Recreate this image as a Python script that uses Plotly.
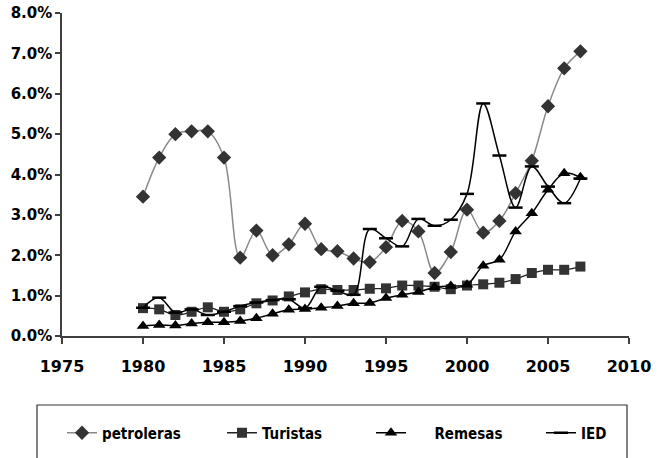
import plotly.graph_objects as go

years = list(range(1980, 2008))

petroleras = [3.45, 4.42, 5.00, 5.07, 5.07, 4.42, 1.94, 2.61, 2.00, 2.27,
              2.78, 2.15, 2.10, 1.92, 1.83, 2.20, 2.85, 2.59, 1.56, 2.08,
              3.13, 2.56, 2.85, 3.54, 4.34, 5.69, 6.63, 7.05]
turistas = [0.69, 0.66, 0.52, 0.60, 0.71, 0.60, 0.66, 0.81, 0.88, 0.98,
            1.08, 1.16, 1.14, 1.14, 1.17, 1.18, 1.25, 1.25, 1.22, 1.16,
            1.25, 1.28, 1.32, 1.41, 1.56, 1.64, 1.64, 1.72]
remesas = [0.25, 0.27, 0.26, 0.31, 0.34, 0.34, 0.37, 0.44, 0.55, 0.65,
           0.67, 0.70, 0.74, 0.81, 0.82, 0.94, 1.02, 1.09, 1.21, 1.24,
           1.27, 1.74, 1.89, 2.59, 3.04, 3.62, 4.03, 3.93]
ied = [0.70, 0.95, 0.58, 0.66, 0.52, 0.60, 0.74, 0.83, 0.89, 0.91,
       0.69, 1.22, 1.12, 1.02, 2.65, 2.42, 2.22, 2.90, 2.73, 2.88,
       3.52, 5.76, 4.47, 3.18, 4.20, 3.70, 3.29, 3.90]

x_ticks = [1975, 1980, 1985, 1990, 1995, 2000, 2005, 2010]
y_ticks = [0.0, 0.01, 0.02, 0.03, 0.04, 0.05, 0.06, 0.07, 0.08]


def pct(values):
    return [v / 100 for v in values]


W, H = 662, 458
ML, MR, MT, MB = 62, 33, 13, 122
plot_w, plot_h = W - ML - MR, H - MT - MB

fig = go.Figure()

fig.add_trace(go.Scatter(
    x=years, y=pct(petroleras), name="petroleras", mode="lines+markers",
    line=dict(color="#8a8a8a", width=1.5, shape="spline", smoothing=1),
    marker=dict(symbol="diamond", size=11, color="#333333"),
    legend="legend",
))
fig.add_trace(go.Scatter(
    x=years, y=pct(turistas), name="Turistas", mode="lines+markers",
    line=dict(color="#222222", width=1.3, shape="spline", smoothing=1),
    marker=dict(symbol="square", size=10, color="#333333"),
    legend="legend2",
))
fig.add_trace(go.Scatter(
    x=years, y=pct(remesas), name="\u00a0\u00a0\u00a0\u00a0\u00a0Remesas",
    mode="lines+markers",
    line=dict(color="#000000", width=1.5, shape="spline", smoothing=1),
    marker=dict(symbol="triangle-up", size=11, color="#000000"),
    legend="legend3",
))
fig.add_trace(go.Scatter(
    x=years, y=pct(ied), name="IED", mode="lines+markers",
    line=dict(color="#000000", width=1.5, shape="spline", smoothing=1),
    marker=dict(symbol="line-ew", size=10,
                line=dict(color="#000000", width=2.5)),
    legend="legend4",
))

legend_font = dict(family="DejaVu Sans Condensed, DejaVu Sans", size=15,
                   color="#000000", weight="bold")


def legend_at(left_px):
    return dict(
        orientation="h", xref="container", yref="container",
        x=left_px / W, y=1 - 433 / H, xanchor="left", yanchor="middle",
        font=legend_font, bgcolor="rgba(0,0,0,0)", borderwidth=0,
        itemwidth=30,
    )


fig.update_layout(
    width=W, height=H,
    margin=dict(l=ML, r=MR, t=MT, b=MB, autoexpand=False),
    paper_bgcolor="white", plot_bgcolor="white",
    showlegend=True,
    legend=legend_at(62),
    legend2=legend_at(222),
    legend3=legend_at(371),
    legend4=legend_at(541),
    shapes=[dict(
        type="rect", xref="paper", yref="paper",
        x0=(37 - ML) / plot_w, x1=(627 - ML) / plot_w,
        y0=(MT + plot_h - 480) / plot_h, y1=(MT + plot_h - 405) / plot_h,
        line=dict(color="#333333", width=1.2), fillcolor="rgba(0,0,0,0)",
        layer="below",
    )],
    xaxis=dict(
        range=[1975, 2010], tickvals=x_ticks, showgrid=False, zeroline=False,
        showline=True, linecolor="#404040", linewidth=1.5,
        ticks="outside", ticklen=6, tickcolor="#404040", tickwidth=1.5,
        tickfont=dict(family="DejaVu Sans", size=16, color="#000000",
                      weight="bold"),
        ticklabelstandoff=9,
    ),
    yaxis=dict(
        range=[0, 0.08], tickvals=y_ticks, tickformat=".1%", showgrid=False,
        zeroline=False, showline=True, linecolor="#404040", linewidth=1.5,
        ticks="outside", ticklen=5, tickcolor="#404040", tickwidth=1.5,
        tickfont=dict(family="DejaVu Sans", size=15, color="#000000",
                      weight="bold"),
    ),
)

fig.write_html("out.html")
